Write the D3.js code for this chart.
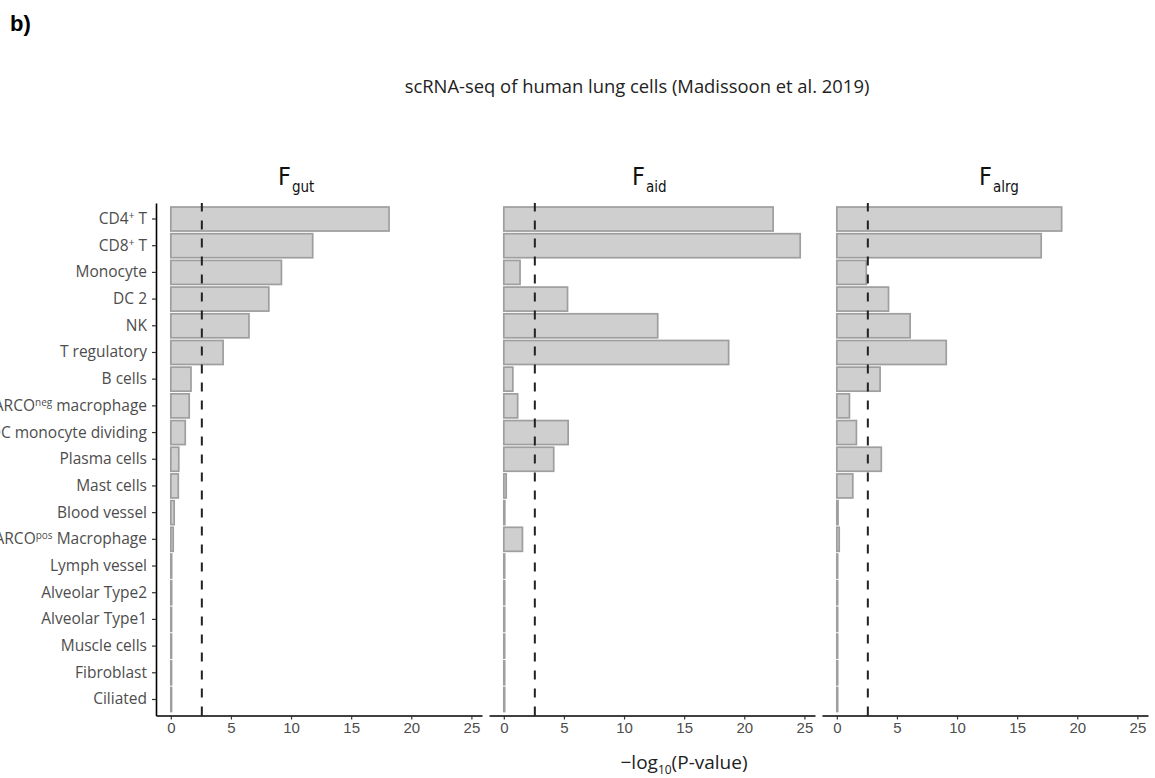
<!DOCTYPE html>
<html>
<head>
<meta charset="utf-8">
<script src="https://cdn.jsdelivr.net/npm/d3@7"></script>
<style>
  body { margin: 0; background: #fff; }
</style>
</head>
<body>
<script>
// cell types, top to bottom (^{..} = superscript)
const cellTypes = [
  'CD4^{+} T', 'CD8^{+} T', 'Monocyte', 'DC 2', 'NK', 'T regulatory', 'B cells',
  'MARCO^{neg} macrophage', 'DC monocyte dividing', 'Plasma cells', 'Mast cells',
  'Blood vessel', 'MARCO^{pos} Macrophage', 'Lymph vessel', 'Alveolar Type2',
  'Alveolar Type1', 'Muscle cells', 'Fibroblast', 'Ciliated'
]

// -log10(P-value) per panel
const fGut  = [18.15, 11.8, 9.2, 8.15, 6.5, 4.35, 1.68, 1.53, 1.2, 0.66, 0.62, 0.28, 0.2, 0.07, 0.07, 0.06, 0.06, 0.06, 0.06]
const fAid  = [22.4, 24.65, 1.35, 5.3, 12.8, 18.7, 0.75, 1.15, 5.35, 4.15, 0.2, 0.08, 1.55, 0.07, 0.07, 0.07, 0.07, 0.07, 0.07]
const fAlrg = [18.7, 17.0, 2.45, 4.3, 6.1, 9.1, 3.6, 1.05, 1.63, 3.7, 1.33, 0.1, 0.2, 0.07, 0.07, 0.07, 0.07, 0.07, 0.07]

const panelSubs = ['gut', 'aid', 'alrg']
const xTicks = [0, 5, 10, 15, 20, 25]
const threshold = -Math.log10(0.05 / 19) // bonferroni line

const panels = [fGut, fAid, fAlrg].map((vals, i) => ({
  sub: panelSubs[i],
  data: cellTypes.map((c, j) => ({ cell: c, value: vals[j] }))
}))

// layout
const W = 1155, H = 778
const PANEL = { top: 203, bottom: 715.5, width: 326, gap: 7, left: 156 }
const titleX = [278, 632, 979] // where the facet titles start

const svg = d3.select('body').append('svg')
  .attr('width', W)
  .attr('height', H)

// shared scales
const maxVal = d3.max([fGut, fAid, fAlrg].flat())
const pad = maxVal * 0.05
const x = d3.scaleLinear()
  .domain([-pad, maxVal + pad])
  .range([0, PANEL.width])

const y = d3.scaleBand()
  .domain(cellTypes)
  .range([PANEL.top, PANEL.bottom])
  .paddingInner(0.1)
  .paddingOuter(0.15)

// helper: writes "abc^{sup} def" as tspans
function richText(sel, str, supSize) {
  sel.text(null)
  const parts = str.split(/(\^\{[^}]*\})/).filter(p => p)
  let back = 0
  parts.forEach(p => {
    if (p.startsWith('^{')) {
      sel.append('tspan')
        .attr('font-size', supSize)
        .attr('dy', -5)
        .text(p.slice(2, -1))
      back = 5
    } else {
      const ts = sel.append('tspan').text(p)
      if (back) ts.attr('dy', back) // only shift back after a superscript
      back = 0
    }
  })
}

panels.forEach((p, i) => {
  const x0 = PANEL.left + i * (PANEL.width + PANEL.gap)
  const g = svg.append('g').attr('transform', `translate(${x0},0)`)

  // bars
  g.selectAll('rect')
    .data(p.data)
    .join('rect')
      .attr('x', x(0))
      .attr('y', d => y(d.cell))
      .attr('width', d => x(d.value) - x(0))
      .attr('height', y.bandwidth())
      .style('fill', '#cfcfcf')
      .style('stroke', '#9e9e9e')
      .style('stroke-width', 1.7)

  // threshold line, dash pattern starts at the bottom
  g.append('line')
    .attr('x1', x(threshold)).attr('x2', x(threshold))
    .attr('y1', PANEL.bottom).attr('y2', PANEL.top)
    .style('stroke', '#222')
    .style('stroke-width', 2)
    .style('stroke-dasharray', '9,9')

  // x axis
  const xAxis = g.append('g')
    .attr('transform', `translate(0,${PANEL.bottom})`)
    .call(d3.axisBottom(x).tickValues(xTicks).tickSize(4).tickSizeOuter(0).tickPadding(3))
  xAxis.select('.domain').style('stroke', '#000').style('stroke-width', 1.6)
  xAxis.selectAll('.tick line').style('stroke', '#333').style('stroke-width', 1.2)
  xAxis.selectAll('.tick text')
    .style('font-family', '"Liberation Sans", Arial, sans-serif')
    .style('font-size', '15px')
    .style('fill', '#4d4d4d')

  // y axis only on the first facet
  if (i === 0) {
    const yAxis = g.append('g')
      .call(d3.axisLeft(y).tickSize(4).tickSizeOuter(0).tickPadding(5))
    yAxis.select('.domain').style('stroke', '#000').style('stroke-width', 1.6)
    yAxis.selectAll('.tick line').style('stroke', '#333').style('stroke-width', 1.2)
    yAxis.selectAll('.tick text')
      .style('font-family', '"Open Sans", sans-serif')
      .style('font-size', '15.5px')
      .style('fill', '#4d4d4d')
      .each(function(d) { richText(d3.select(this), d, '10px') })
  }

  // facet title F_sub
  const t = svg.append('text')
    .attr('x', titleX[i])
    .attr('y', 185)
    .style('font-family', '"Liberation Sans Narrow", "DejaVu Sans Condensed", "Liberation Sans", sans-serif')
    .style('fill', '#111')
  t.append('tspan').style('font-size', '25px').text('F')
  t.append('tspan').style('font-size', '15px').attr('dx', 1).attr('dy', 7).text(p.sub)
})

// main title
svg.append('text')
  .attr('x', 637)
  .attr('y', 93)
  .attr('text-anchor', 'middle')
  .style('font-family', '"Open Sans", sans-serif')
  .style('font-size', '18.4px')
  .style('fill', '#222')
  .text('scRNA-seq of human lung cells (Madissoon et al. 2019)')

// x axis title
const xt = svg.append('text')
  .attr('x', 684)
  .attr('y', 769)
  .attr('text-anchor', 'middle')
  .style('font-family', '"Open Sans", sans-serif')
  .style('font-size', '19px')
  .style('fill', '#222')
xt.append('tspan').text('\u2212log')
xt.append('tspan').attr('dy', 5).style('font-size', '12px').text('10')
xt.append('tspan').attr('dy', -5).text('(P-value)')

// panel tag
svg.append('text')
  .attr('x', 10)
  .attr('y', 31)
  .style('font-family', '"Liberation Sans", Arial, sans-serif')
  .style('font-size', '22px')
  .style('font-weight', 'bold')
  .text('b)')
</script>
</body>
</html>
